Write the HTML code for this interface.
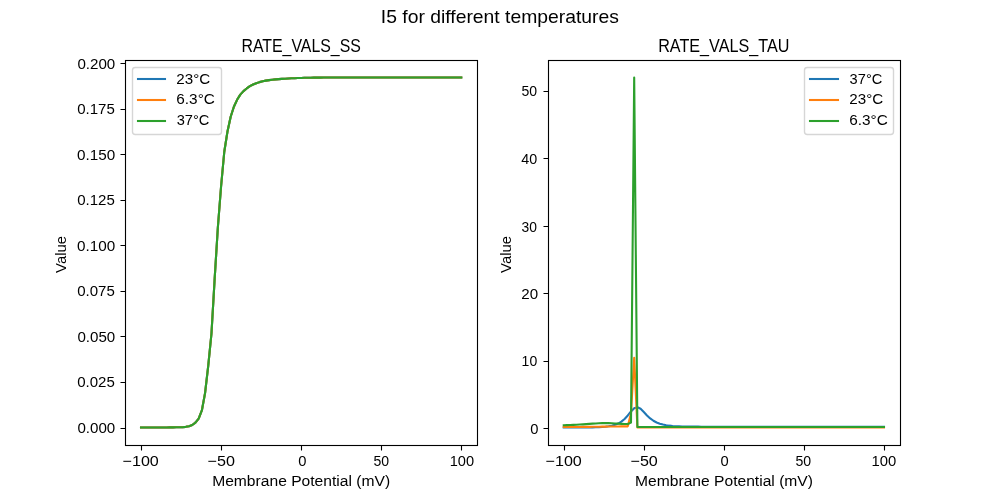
<!DOCTYPE html>
<html lang="en"><head><meta charset="utf-8"><title>I5 for different temperatures</title>
<style>
html,body{margin:0;padding:0;background:#ffffff;}
body{width:1000px;height:500px;overflow:hidden;position:relative;font-family:"Liberation Sans",sans-serif;color:#000;}
#fig{position:absolute;left:0;top:0;width:1000px;height:500px;overflow:hidden;background:#fff;}
#plot{position:absolute;left:0;top:0;display:block;}
#labels{position:absolute;left:0;top:0;width:1000px;height:500px;will-change:transform;}
.t{position:absolute;left:0;top:0;white-space:nowrap;line-height:1;transform-origin:0 0;font-family:"Liberation Sans",sans-serif;color:#000;margin:0;padding:0;}
.s10{font-size:14.722px;}
.s12{font-size:17.667px;}
</style></head><body>
<div id="fig">
<svg id="plot" width="1000" height="500" viewBox="0 0 1000 500">
<rect x="0" y="0" width="1000" height="500" fill="#ffffff"/>
<g fill="none" stroke-width="2.0833" stroke-linejoin="round" stroke-linecap="square">
<polyline points="141.01,427.50 144.21,427.50 147.42,427.49 150.62,427.49 153.82,427.48 157.02,427.47 160.23,427.45 163.43,427.44 166.63,427.42 169.83,427.40 173.04,427.38 176.24,427.33 179.44,427.27 182.64,427.17 185.85,426.84 189.05,426.23 192.25,425.01 195.45,422.61 198.66,418.58 201.86,410.49 205.06,393.07 208.26,365.64 211.47,333.50 214.67,278.60 217.87,227.23 221.07,186.48 224.28,151.76 227.48,131.49 230.68,116.72 233.88,106.76 237.09,99.82 240.29,94.63 243.49,91.16 246.69,88.45 249.90,86.18 253.10,84.48 256.30,83.17 259.50,82.13 262.71,81.32 265.91,80.64 269.11,80.11 272.31,79.74 275.52,79.41 278.72,79.12 281.92,78.88 285.12,78.67 288.33,78.48 291.53,78.33 294.73,78.18 297.93,78.04 301.14,77.92 304.34,77.81 307.54,77.74 310.74,77.69 313.95,77.66 317.15,77.62 320.35,77.59 323.55,77.57 326.76,77.54 329.96,77.53 333.16,77.51 336.36,77.50 339.57,77.50 342.77,77.50 345.97,77.50 349.17,77.50 352.38,77.50 355.58,77.50 358.78,77.50 361.98,77.50 365.19,77.50 368.39,77.50 371.59,77.50 374.79,77.50 378.00,77.50 381.20,77.50 384.40,77.50 387.60,77.50 390.81,77.50 394.01,77.50 397.21,77.50 400.41,77.50 403.62,77.50 406.82,77.50 410.02,77.50 413.22,77.50 416.43,77.50 419.63,77.50 422.83,77.50 426.03,77.50 429.24,77.50 432.44,77.50 435.64,77.50 438.84,77.50 442.05,77.50 445.25,77.50 448.45,77.50 451.65,77.50 454.86,77.50 458.06,77.50 461.26,77.50" stroke="#1f77b4"/>
<polyline points="141.01,427.50 144.21,427.50 147.42,427.49 150.62,427.49 153.82,427.48 157.02,427.47 160.23,427.45 163.43,427.44 166.63,427.42 169.83,427.40 173.04,427.38 176.24,427.33 179.44,427.27 182.64,427.17 185.85,426.84 189.05,426.23 192.25,425.01 195.45,422.61 198.66,418.58 201.86,410.49 205.06,393.07 208.26,365.64 211.47,333.50 214.67,278.60 217.87,227.23 221.07,186.48 224.28,151.76 227.48,131.49 230.68,116.72 233.88,106.76 237.09,99.82 240.29,94.63 243.49,91.16 246.69,88.45 249.90,86.18 253.10,84.48 256.30,83.17 259.50,82.13 262.71,81.32 265.91,80.64 269.11,80.11 272.31,79.74 275.52,79.41 278.72,79.12 281.92,78.88 285.12,78.67 288.33,78.48 291.53,78.33 294.73,78.18 297.93,78.04 301.14,77.92 304.34,77.81 307.54,77.74 310.74,77.69 313.95,77.66 317.15,77.62 320.35,77.59 323.55,77.57 326.76,77.54 329.96,77.53 333.16,77.51 336.36,77.50 339.57,77.50 342.77,77.50 345.97,77.50 349.17,77.50 352.38,77.50 355.58,77.50 358.78,77.50 361.98,77.50 365.19,77.50 368.39,77.50 371.59,77.50 374.79,77.50 378.00,77.50 381.20,77.50 384.40,77.50 387.60,77.50 390.81,77.50 394.01,77.50 397.21,77.50 400.41,77.50 403.62,77.50 406.82,77.50 410.02,77.50 413.22,77.50 416.43,77.50 419.63,77.50 422.83,77.50 426.03,77.50 429.24,77.50 432.44,77.50 435.64,77.50 438.84,77.50 442.05,77.50 445.25,77.50 448.45,77.50 451.65,77.50 454.86,77.50 458.06,77.50 461.26,77.50" stroke="#ff7f0e"/>
<polyline points="141.01,427.50 144.21,427.50 147.42,427.49 150.62,427.49 153.82,427.48 157.02,427.47 160.23,427.45 163.43,427.44 166.63,427.42 169.83,427.40 173.04,427.38 176.24,427.33 179.44,427.27 182.64,427.17 185.85,426.84 189.05,426.23 192.25,425.01 195.45,422.61 198.66,418.58 201.86,410.49 205.06,393.07 208.26,365.64 211.47,333.50 214.67,278.60 217.87,227.23 221.07,186.48 224.28,151.76 227.48,131.49 230.68,116.72 233.88,106.76 237.09,99.82 240.29,94.63 243.49,91.16 246.69,88.45 249.90,86.18 253.10,84.48 256.30,83.17 259.50,82.13 262.71,81.32 265.91,80.64 269.11,80.11 272.31,79.74 275.52,79.41 278.72,79.12 281.92,78.88 285.12,78.67 288.33,78.48 291.53,78.33 294.73,78.18 297.93,78.04 301.14,77.92 304.34,77.81 307.54,77.74 310.74,77.69 313.95,77.66 317.15,77.62 320.35,77.59 323.55,77.57 326.76,77.54 329.96,77.53 333.16,77.51 336.36,77.50 339.57,77.50 342.77,77.50 345.97,77.50 349.17,77.50 352.38,77.50 355.58,77.50 358.78,77.50 361.98,77.50 365.19,77.50 368.39,77.50 371.59,77.50 374.79,77.50 378.00,77.50 381.20,77.50 384.40,77.50 387.60,77.50 390.81,77.50 394.01,77.50 397.21,77.50 400.41,77.50 403.62,77.50 406.82,77.50 410.02,77.50 413.22,77.50 416.43,77.50 419.63,77.50 422.83,77.50 426.03,77.50 429.24,77.50 432.44,77.50 435.64,77.50 438.84,77.50 442.05,77.50 445.25,77.50 448.45,77.50 451.65,77.50 454.86,77.50 458.06,77.50 461.26,77.50" stroke="#2ca02c"/>
</g>
<g stroke="#000" stroke-width="1.1111" fill="none">
<path d="M141.5 445.5 V450.50 M221.5 445.5 V450.50 M301.5 445.5 V450.50 M381.5 445.5 V450.50 M461.5 445.5 V450.50 M125.5 428.5 H120.50 M125.5 382.5 H120.50 M125.5 336.5 H120.50 M125.5 291.5 H120.50 M125.5 245.5 H120.50 M125.5 200.5 H120.50 M125.5 154.5 H120.50 M125.5 109.5 H120.50 M125.5 63.5 H120.50"/>
<rect x="125.5" y="60.5" width="352.0" height="385.0" stroke-linejoin="miter"/>
</g>
<g fill="none" stroke-width="2.0833" stroke-linejoin="round" stroke-linecap="square">
<polyline points="563.74,427.51 566.94,427.51 570.14,427.50 573.35,427.50 576.55,427.49 579.75,427.48 582.95,427.47 586.16,427.44 589.36,427.41 592.56,427.36 595.76,427.28 598.97,427.17 602.17,426.99 605.37,426.73 608.57,426.34 611.78,425.75 614.98,424.87 618.18,423.56 621.38,421.65 624.59,418.97 627.79,415.45 630.99,411.50 634.19,408.24 637.40,407.17 640.60,408.76 643.80,411.97 647.00,415.45 650.21,418.45 653.41,420.77 656.61,422.49 659.81,423.72 663.02,424.60 666.22,425.22 669.42,425.66 672.62,425.96 675.83,426.18 679.03,426.34 682.23,426.44 685.43,426.52 688.64,426.57 691.84,426.61 695.04,426.64 698.24,426.66 701.45,426.67 704.65,426.68 707.85,426.69 711.05,426.69 714.26,426.70 717.46,426.70 720.66,426.70 723.86,426.70 727.07,426.70 730.27,426.70 733.47,426.70 736.67,426.70 739.88,426.70 743.08,426.70 746.28,426.70 749.48,426.70 752.69,426.70 755.89,426.70 759.09,426.70 762.29,426.70 765.50,426.70 768.70,426.70 771.90,426.70 775.10,426.70 778.31,426.70 781.51,426.70 784.71,426.70 787.91,426.70 791.12,426.70 794.32,426.70 797.52,426.70 800.72,426.70 803.93,426.70 807.13,426.70 810.33,426.70 813.53,426.70 816.74,426.70 819.94,426.70 823.14,426.70 826.34,426.70 829.55,426.70 832.75,426.70 835.95,426.70 839.15,426.70 842.36,426.70 845.56,426.70 848.76,426.70 851.96,426.70 855.17,426.70 858.37,426.70 861.57,426.70 864.77,426.70 867.98,426.70 871.18,426.70 874.38,426.70 877.58,426.70 880.79,426.70 883.99,426.70" stroke="#1f77b4"/>
<polyline points="563.74,427.01 566.94,427.00 570.14,426.99 573.35,426.97 576.55,426.95 579.75,426.93 582.95,426.91 586.16,426.88 589.36,426.84 592.56,426.80 595.76,426.76 598.97,426.71 602.17,426.66 605.37,426.61 608.57,426.56 611.78,426.51 614.98,426.47 618.18,426.43 621.38,426.39 624.59,426.36 627.79,426.34 630.99,413.22 634.19,357.81 637.40,427.44 640.60,427.44 643.80,427.44 647.00,427.44 650.21,427.44 653.41,427.44 656.61,427.44 659.81,427.44 663.02,427.44 666.22,427.44 669.42,427.44 672.62,427.44 675.83,427.44 679.03,427.44 682.23,427.44 685.43,427.44 688.64,427.44 691.84,427.44 695.04,427.44 698.24,427.44 701.45,427.44 704.65,427.44 707.85,427.44 711.05,427.44 714.26,427.44 717.46,427.44 720.66,427.44 723.86,427.44 727.07,427.44 730.27,427.44 733.47,427.44 736.67,427.44 739.88,427.44 743.08,427.44 746.28,427.44 749.48,427.44 752.69,427.44 755.89,427.44 759.09,427.44 762.29,427.44 765.50,427.44 768.70,427.44 771.90,427.44 775.10,427.44 778.31,427.44 781.51,427.44 784.71,427.44 787.91,427.44 791.12,427.44 794.32,427.44 797.52,427.44 800.72,427.44 803.93,427.44 807.13,427.44 810.33,427.44 813.53,427.44 816.74,427.44 819.94,427.44 823.14,427.44 826.34,427.44 829.55,427.44 832.75,427.44 835.95,427.44 839.15,427.44 842.36,427.44 845.56,427.44 848.76,427.44 851.96,427.44 855.17,427.44 858.37,427.44 861.57,427.44 864.77,427.44 867.98,427.44 871.18,427.44 874.38,427.44 877.58,427.44 880.79,427.44 883.99,427.44" stroke="#ff7f0e"/>
<polyline points="563.74,425.22 566.94,425.12 570.14,424.99 573.35,424.86 576.55,424.71 579.75,424.55 582.95,424.35 586.16,424.13 589.36,423.89 592.56,423.66 595.76,423.47 598.97,423.28 602.17,423.11 605.37,423.07 608.57,423.16 611.78,423.31 614.98,423.47 618.18,423.64 621.38,423.84 624.59,424.00 627.79,424.07 630.99,422.66 634.19,77.50 637.40,427.04 640.60,427.04 643.80,427.04 647.00,427.04 650.21,427.04 653.41,427.04 656.61,427.04 659.81,427.04 663.02,427.04 666.22,427.04 669.42,427.04 672.62,427.04 675.83,427.04 679.03,427.04 682.23,427.04 685.43,427.04 688.64,427.04 691.84,427.04 695.04,427.04 698.24,427.04 701.45,427.04 704.65,427.04 707.85,427.04 711.05,427.04 714.26,427.04 717.46,427.04 720.66,427.04 723.86,427.04 727.07,427.04 730.27,427.04 733.47,427.04 736.67,427.04 739.88,427.04 743.08,427.04 746.28,427.04 749.48,427.04 752.69,427.04 755.89,427.04 759.09,427.04 762.29,427.04 765.50,427.04 768.70,427.04 771.90,427.04 775.10,427.04 778.31,427.04 781.51,427.04 784.71,427.04 787.91,427.04 791.12,427.04 794.32,427.04 797.52,427.04 800.72,427.04 803.93,427.04 807.13,427.04 810.33,427.04 813.53,427.04 816.74,427.04 819.94,427.04 823.14,427.04 826.34,427.04 829.55,427.04 832.75,427.04 835.95,427.04 839.15,427.04 842.36,427.04 845.56,427.04 848.76,427.04 851.96,427.04 855.17,427.04 858.37,427.04 861.57,427.04 864.77,427.04 867.98,427.04 871.18,427.04 874.38,427.04 877.58,427.04 880.79,427.04 883.99,427.04" stroke="#2ca02c"/>
</g>
<g stroke="#000" stroke-width="1.1111" fill="none">
<path d="M564.5 445.5 V450.50 M644.5 445.5 V450.50 M724.5 445.5 V450.50 M804.5 445.5 V450.50 M884.5 445.5 V450.50 M548.5 428.5 H543.50 M548.5 361.5 H543.50 M548.5 293.5 H543.50 M548.5 226.5 H543.50 M548.5 158.5 H543.50 M548.5 91.5 H543.50"/>
<rect x="548.5" y="60.5" width="352.0" height="385.0" stroke-linejoin="miter"/>
</g>
<rect x="132.5" y="67.5" width="89.0" height="67" rx="2.78" ry="2.78" fill="#ffffff" fill-opacity="0.8" stroke="#cccccc" stroke-opacity="0.8" stroke-width="1.3889"/>
<line x1="136.96" y1="79" x2="166.04" y2="79" stroke="#1f77b4" stroke-width="2.0833"/>
<line x1="136.96" y1="100" x2="166.04" y2="100" stroke="#ff7f0e" stroke-width="2.0833"/>
<line x1="136.96" y1="121" x2="166.04" y2="121" stroke="#2ca02c" stroke-width="2.0833"/>
<rect x="804.5" y="67.5" width="89.0" height="67" rx="2.78" ry="2.78" fill="#ffffff" fill-opacity="0.8" stroke="#cccccc" stroke-opacity="0.8" stroke-width="1.3889"/>
<line x1="808.96" y1="79" x2="839.04" y2="79" stroke="#1f77b4" stroke-width="2.0833"/>
<line x1="808.96" y1="100" x2="839.04" y2="100" stroke="#ff7f0e" stroke-width="2.0833"/>
<line x1="808.96" y1="121" x2="839.04" y2="121" stroke="#2ca02c" stroke-width="2.0833"/>
</svg>
<div id="labels">
<div class="t s12" style="transform:translate(380.84px,8.87px) scaleX(1.0946)">I5 for different temperatures</div>
<div class="t s12" style="transform:translate(241.44px,38.30px) scaleX(0.8990)">RATE_VALS_SS</div>
<div class="t s10" style="transform:translate(212.15px,473.83px) scaleX(1.0614)">Membrane Potential (mV)</div>
<div class="t s10" style="transform:translate(53.67px,272.93px) rotate(-90deg) scaleX(1.0107)">Value</div>
<div class="t s10" style="transform:translate(122.57px,453.89px) scaleX(1.0932)">−100</div>
<div class="t s10" style="transform:translate(207.55px,453.97px) scaleX(1.0968)">−50</div>
<div class="t s10" style="transform:translate(298.14px,453.84px) scaleX(1.0000)">0</div>
<div class="t s10" style="transform:translate(373.50px,454.19px) scaleX(0.9551)">50</div>
<div class="t s10" style="transform:translate(449.66px,454.05px) scaleX(0.9931)">100</div>
<div class="t s10" style="transform:translate(77.38px,421.05px) scaleX(1.0271)">0.000</div>
<div class="t s10" style="transform:translate(77.13px,374.50px) scaleX(1.0226)">0.025</div>
<div class="t s10" style="transform:translate(77.38px,330.28px) scaleX(1.0271)">0.050</div>
<div class="t s10" style="transform:translate(77.13px,284.19px) scaleX(1.0226)">0.075</div>
<div class="t s10" style="transform:translate(77.11px,238.87px) scaleX(1.0372)">0.100</div>
<div class="t s10" style="transform:translate(77.15px,193.49px) scaleX(1.0229)">0.125</div>
<div class="t s10" style="transform:translate(77.11px,147.99px) scaleX(1.0372)">0.150</div>
<div class="t s10" style="transform:translate(77.15px,102.49px) scaleX(1.0229)">0.175</div>
<div class="t s10" style="transform:translate(77.38px,56.81px) scaleX(1.0271)">0.200</div>
<div class="t s10" style="transform:translate(176.35px,72.23px) scaleX(1.0305)">23°C</div>
<div class="t s10" style="transform:translate(176.26px,91.89px) scaleX(1.0442)">6.3°C</div>
<div class="t s10" style="transform:translate(176.69px,113.06px) scaleX(0.9943)">37°C</div>
<div class="t s12" style="transform:translate(658.19px,38.30px) scaleX(0.9155)">RATE_VALS_TAU</div>
<div class="t s10" style="transform:translate(635.10px,473.66px) scaleX(1.0606)">Membrane Potential (mV)</div>
<div class="t s10" style="transform:translate(499.28px,272.93px) rotate(-90deg) scaleX(1.0107)">Value</div>
<div class="t s10" style="transform:translate(545.52px,453.93px) scaleX(1.0945)">−100</div>
<div class="t s10" style="transform:translate(630.51px,453.92px) scaleX(1.0939)">−50</div>
<div class="t s10" style="transform:translate(720.38px,453.84px) scaleX(1.0000)">0</div>
<div class="t s10" style="transform:translate(795.45px,454.13px) scaleX(0.9586)">50</div>
<div class="t s10" style="transform:translate(871.47px,454.02px) scaleX(1.0064)">100</div>
<div class="t s10" style="transform:translate(530.15px,421.66px) scaleX(1.0000)">0</div>
<div class="t s10" style="transform:translate(521.59px,353.71px) scaleX(0.9526)">10</div>
<div class="t s10" style="transform:translate(521.35px,286.64px) scaleX(1.0260)">20</div>
<div class="t s10" style="transform:translate(521.60px,219.50px) scaleX(0.9426)">30</div>
<div class="t s10" style="transform:translate(521.29px,151.81px) scaleX(0.9725)">40</div>
<div class="t s10" style="transform:translate(521.55px,83.95px) scaleX(0.9551)">50</div>
<div class="t s10" style="transform:translate(849.62px,72.17px) scaleX(0.9930)">37°C</div>
<div class="t s10" style="transform:translate(849.37px,92.17px) scaleX(1.0299)">23°C</div>
<div class="t s10" style="transform:translate(849.14px,112.82px) scaleX(1.0434)">6.3°C</div>
</div>
</div>
</body></html>
